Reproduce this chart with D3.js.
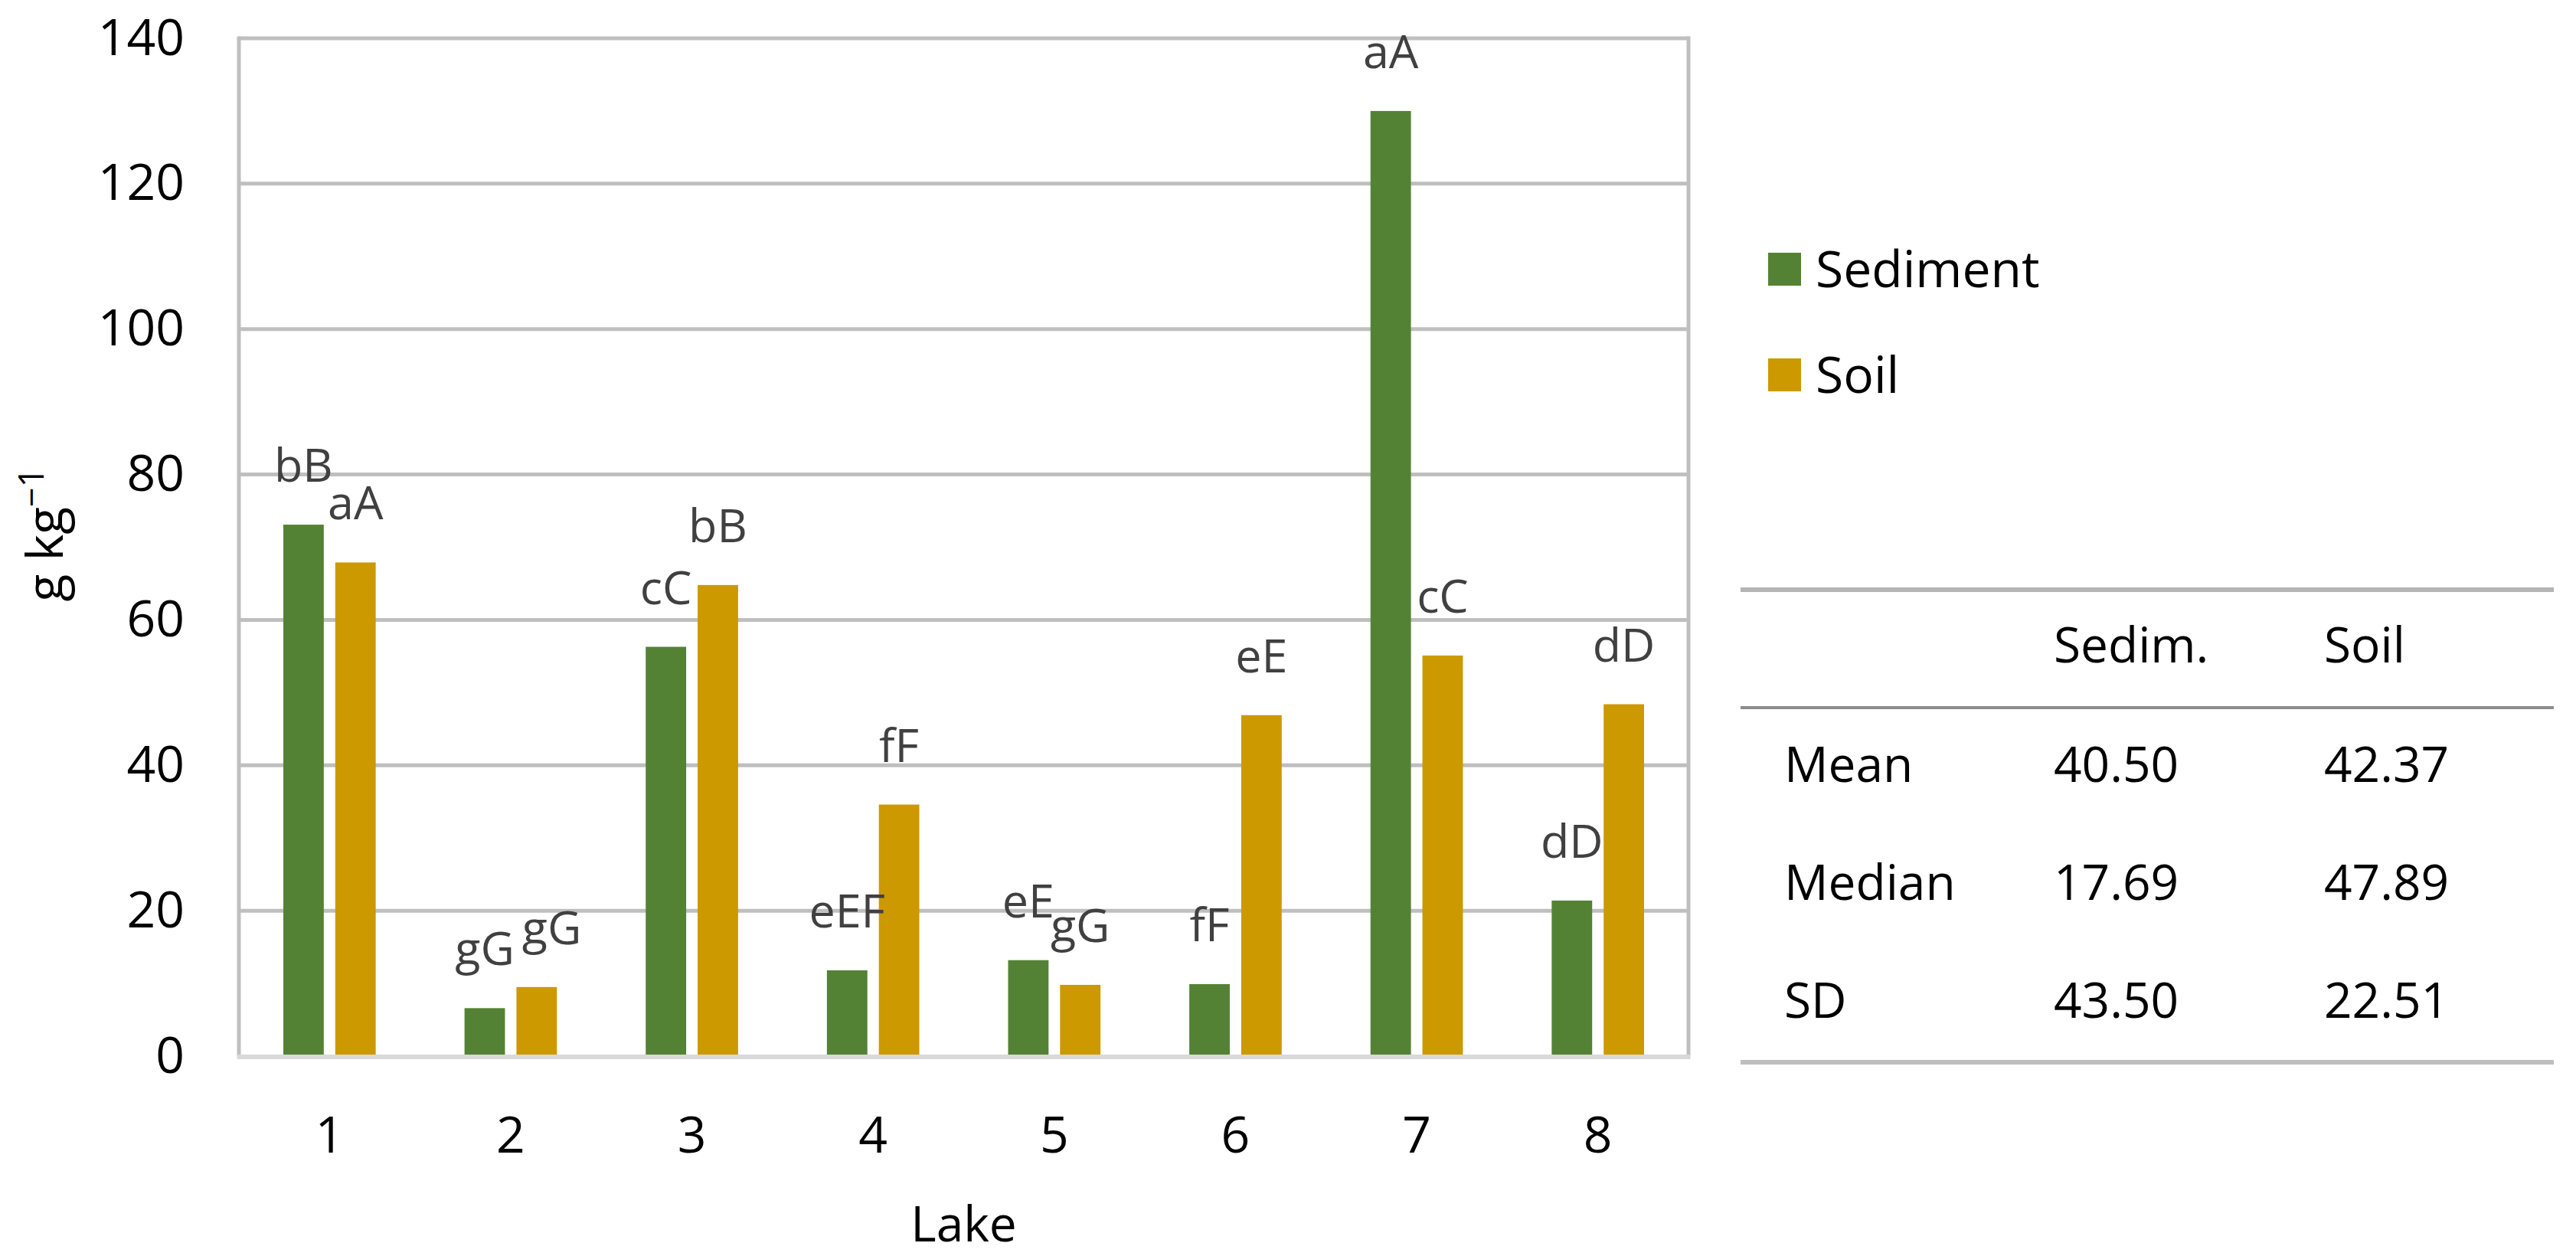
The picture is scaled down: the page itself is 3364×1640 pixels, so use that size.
<!DOCTYPE html>
<html>
<head>
<meta charset="utf-8">
<script src="https://cdn.jsdelivr.net/npm/d3@7"></script>
<style>
  body { margin: 0; background: #fff; }
  svg text { font-family: "Open Sans", sans-serif; }
</style>
</head>
<body>
<svg id="chart" width="3364" height="1640"></svg>
<script>
// lakes along the x axis
const lakes = ["1", "2", "3", "4", "5", "6", "7", "8"];
const seriesNames = ["Sediment", "Soil"];
// g kg-1
const sediment = [73.1, 6.6, 56.3, 11.8, 13.2, 9.9, 130.0, 21.4];
const soil = [67.9, 9.5, 64.8, 34.6, 9.8, 46.9, 55.1, 48.4];
// significance letters over each bar
const sedimentLetters = ["bB", "gG", "cC", "eEF", "eE", "fF", "aA", "dD"];
const soilLetters = ["aA", "gG", "bB", "fF", "gG", "eE", "cC", "dD"];
const yTicks = [0, 20, 40, 60, 80, 100, 120, 140];
// summary table on the right
const statHeader = ["Sedim.", "Soil"];
const statLabels = ["Mean", "Median", "SD"];
const statSediment = ["40.50", "17.69", "43.50"];
const statSoil = ["42.37", "47.89", "22.51"];

const colors = { Sediment: "#548235", Soil: "#cc9900" };
const gridColor = "#bfbfbf";

const svg = d3.select("#chart");
const plot = { left: 312, right: 2205, top: 50, bottom: 1379 };

const x0 = d3.scaleBand().domain(lakes).range([plot.left, plot.right]);
const x1 = d3.scaleBand().domain(seriesNames).range([0, x0.bandwidth()])
  .paddingInner(0.221).paddingOuter(0.855);
const y = d3.scaleLinear().domain([0, 140]).range([plot.bottom, plot.top]);

// gridlines (inner ones) and the plot frame
svg.append("g").selectAll("line")
  .data(yTicks.filter(t => t > 0))
  .join("line")
  .attr("x1", plot.left).attr("x2", plot.right)
  .attr("y1", d => y(d)).attr("y2", d => y(d))
  .attr("stroke", gridColor).attr("stroke-width", 5);

svg.append("line")
  .attr("x1", plot.left).attr("x2", plot.left)
  .attr("y1", plot.top - 2.5).attr("y2", plot.bottom)
  .attr("stroke", gridColor).attr("stroke-width", 5);
svg.append("line")
  .attr("x1", plot.right).attr("x2", plot.right)
  .attr("y1", plot.top - 2.5).attr("y2", plot.bottom)
  .attr("stroke", gridColor).attr("stroke-width", 5);

// bars
const table = lakes.map((lake, i) => ({
  lake,
  values: [
    { key: "Sediment", value: sediment[i], letter: sedimentLetters[i] },
    { key: "Soil", value: soil[i], letter: soilLetters[i] }
  ]
}));

const groups = svg.append("g").selectAll("g")
  .data(table)
  .join("g")
  .attr("transform", d => `translate(${x0(d.lake)},0)`);

groups.selectAll("rect")
  .data(d => d.values)
  .join("rect")
  .attr("x", d => x1(d.key))
  .attr("width", x1.bandwidth())
  .attr("y", d => y(d.value))
  .attr("height", d => y(0) - y(d.value))
  .attr("fill", d => colors[d.key]);

// x axis line
svg.append("line")
  .attr("x1", plot.left - 2.5).attr("x2", plot.right + 2.5)
  .attr("y1", plot.bottom + 1).attr("y2", plot.bottom + 1)
  .attr("stroke", "#d9d9d9").attr("stroke-width", 6);

// data labels
const labels = groups.selectAll("text.lbl")
  .data(d => d.values)
  .join("text")
  .attr("class", "lbl")
  .attr("x", d => x1(d.key) + x1.bandwidth() / 2)
  .attr("y", d => y(d.value) - 56)
  .attr("text-anchor", "middle")
  .attr("font-size", 61)
  .attr("fill", "#404040")
  .text(d => d.letter);

// push a soil label aside when it sits on top of the sediment label
groups.each(function () {
  const t = d3.select(this).selectAll("text.lbl").nodes();
  const a = t[0].getBBox(), b = t[1].getBBox();
  const dy = Math.abs(+t[0].getAttribute("y") - +t[1].getAttribute("y"));
  if (dy < 30 && b.x < a.x + a.width + 10) {
    const shift = a.x + a.width + 10 - b.x;
    t[1].setAttribute("x", +t[1].getAttribute("x") + shift);
  }
});

// axes
const yAxis = svg.append("g")
  .attr("transform", `translate(${plot.left},0)`)
  .call(d3.axisLeft(y).tickValues(yTicks).tickSize(0).tickPadding(71));
yAxis.select(".domain").remove();
yAxis.selectAll("text").attr("font-size", 66).attr("fill", "#000")
  .style("font-family", "'Open Sans', sans-serif");

const xAxis = svg.append("g")
  .attr("transform", `translate(0,${plot.bottom})`)
  .call(d3.axisBottom(x0).tickSize(0).tickPadding(79));
xAxis.select(".domain").remove();
xAxis.selectAll("text").attr("font-size", 66).attr("fill", "#000")
  .style("font-family", "'Open Sans', sans-serif");

// axis titles
svg.append("text")
  .attr("x", (plot.left + plot.right) / 2)
  .attr("y", 1621)
  .attr("text-anchor", "middle")
  .attr("font-size", 64)
  .attr("fill", "#000")
  .text("Lake");

const yTitle = svg.append("text")
  .attr("transform", "translate(82,698) rotate(-90)")
  .attr("text-anchor", "middle")
  .attr("font-size", 66)
  .attr("fill", "#000");
yTitle.append("tspan").text("g kg");
yTitle.append("tspan").attr("font-size", 45).attr("dy", -25).text("\u22121");

// legend
const legend = svg.append("g").selectAll("g")
  .data(seriesNames)
  .join("g")
  .attr("transform", (d, i) => `translate(2309,${330 + i * 138})`);
legend.append("rect")
  .attr("width", 43).attr("height", 43)
  .attr("fill", d => colors[d]);
legend.append("text")
  .attr("x", 62).attr("y", 45)
  .attr("font-size", 66)
  .attr("fill", "#000")
  .text(d => d);

// statistics table
const tbl = { x0: 2273, x1: 3335, cols: [2330, 2682, 3035] };
const rowY = d3.scalePoint().domain(statLabels).range([1021, 1329]);

svg.append("line")
  .attr("x1", tbl.x0).attr("x2", tbl.x1).attr("y1", 770).attr("y2", 770)
  .attr("stroke", "#b4b4b4").attr("stroke-width", 6);
svg.append("line")
  .attr("x1", tbl.x0).attr("x2", tbl.x1).attr("y1", 924).attr("y2", 924)
  .attr("stroke", "#8c8c8c").attr("stroke-width", 4);
svg.append("line")
  .attr("x1", tbl.x0).attr("x2", tbl.x1).attr("y1", 1387).attr("y2", 1387)
  .attr("stroke", "#bfbfbf").attr("stroke-width", 6);

svg.append("g").selectAll("text")
  .data(statHeader)
  .join("text")
  .attr("x", (d, i) => tbl.cols[i + 1])
  .attr("y", 865)
  .attr("font-size", 64)
  .attr("fill", "#000")
  .text(d => d);

const rows = svg.append("g").selectAll("g")
  .data(statLabels.map((lab, i) => [lab, statSediment[i], statSoil[i]]))
  .join("g")
  .attr("transform", d => `translate(0,${rowY(d[0])})`);
rows.selectAll("text")
  .data(d => d)
  .join("text")
  .attr("x", (d, i) => tbl.cols[i])
  .attr("font-size", 64)
  .attr("fill", "#000")
  .text(d => d);
</script>
</body>
</html>
